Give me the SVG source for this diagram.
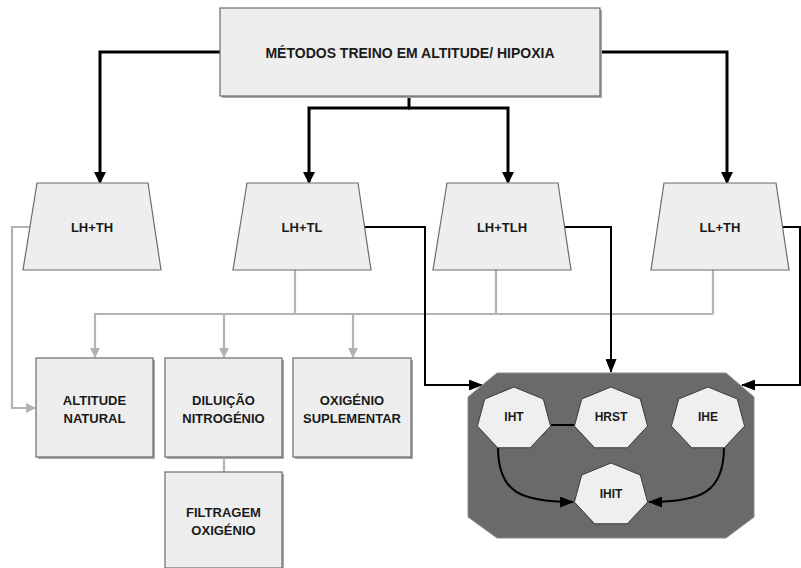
<svg xmlns="http://www.w3.org/2000/svg" width="801" height="568" viewBox="0 0 801 568">
<style>
  .box{fill:#eeeeee;stroke:#6b6b6b;stroke-width:1.2}
  .shadow{fill:#a8a8a8}
  .hep{fill:#efefef;stroke:#3a3a3a;stroke-width:1}
  .lbl{font-family:"Liberation Sans",Arial,sans-serif;font-weight:bold;font-size:13px;fill:#1a1a1a;text-anchor:middle}
  .thick{fill:none;stroke:#000;stroke-width:3}
  .blk{fill:none;stroke:#000;stroke-width:2}
  .gray{fill:none;stroke:#b3b3b3;stroke-width:2.2}
</style>
<defs>
  <marker id="ab" markerWidth="12" markerHeight="12" refX="10" refY="6" orient="auto" markerUnits="userSpaceOnUse">
    <path d="M0,0 L12,6 L0,12 Z" fill="#000"/>
  </marker>
  <marker id="ab2" markerWidth="14" markerHeight="11" refX="13" refY="5.5" orient="auto" markerUnits="userSpaceOnUse">
    <path d="M0,0 L14,5.5 L0,11 Z" fill="#000"/>
  </marker>
  <marker id="ag" markerWidth="10" markerHeight="10" refX="9" refY="5" orient="auto" markerUnits="userSpaceOnUse">
    <path d="M0,0 L10,5 L0,10 Z" fill="#b3b3b3"/>
  </marker>
  <polygon id="hepta" points="0,-32 29.3,-20 36.6,7.1 16.3,28.8 -16.3,28.8 -36.6,7.1 -29.3,-20"/>
</defs>

<g id="connectors">
  <path class="thick" d="M220,52 H100 V182" marker-end="url(#ab)"/>
  <path class="thick" d="M600,52 H727 V182" marker-end="url(#ab)"/>
  <path class="thick" d="M409,97 V108"/>
  <path class="thick" d="M410,108 H309 V182" marker-end="url(#ab)"/>
  <path class="thick" d="M408,108 H508 V182" marker-end="url(#ab)"/>

  <path class="gray" d="M30,227 H12 V408 H35" marker-end="url(#ag)"/>
  <path class="gray" d="M295,270 V314 M496,270 V314 M713,270 V314 M95,314 H713"/>
  <path class="gray" d="M95,313 V357" marker-end="url(#ag)"/>
  <path class="gray" d="M224,313 V357" marker-end="url(#ag)"/>
  <path class="gray" d="M353,313 V357" marker-end="url(#ag)"/>
  <path class="gray" d="M224,457 V472"/>

  <path class="blk" d="M365,227 H425 V385 H482" marker-end="url(#ab2)"/>
  <path class="blk" d="M565,227 H611 V372" marker-end="url(#ab2)"/>
  <path class="blk" d="M783,227 H800 V385 H742" marker-end="url(#ab2)"/>
</g>

<g id="top">
  <rect class="shadow" x="222" y="10" width="380" height="88"/>
  <rect class="box" x="220" y="8" width="380" height="88"/>
  <text class="lbl" x="410" y="58" style="font-size:14px">MÉTODOS TREINO EM ALTITUDE/ HIPOXIA</text>
</g>

<g id="lh-th">
  <polygon class="box" points="37,183 148,183 161,270 23,270"/>
  <text class="lbl" x="92" y="232">LH+TH</text>
</g>
<g id="lh-tl">
  <polygon class="box" points="247,183 358,183 371,270 233,270"/>
  <text class="lbl" x="302" y="232">LH+TL</text>
</g>
<g id="lh-tlh">
  <polygon class="box" points="447,183 558,183 571,270 433,270"/>
  <text class="lbl" x="502" y="232">LH+TLH</text>
</g>
<g id="ll-th">
  <polygon class="box" points="664,183 776,183 789,270 651,270"/>
  <text class="lbl" x="720" y="232">LL+TH</text>
</g>

<g id="altitude">
  <rect class="shadow" x="38" y="360" width="117" height="99"/>
  <rect class="box" x="36" y="358" width="117" height="99"/>
  <text class="lbl" x="94.5" y="405">ALTITUDE</text>
  <text class="lbl" x="94.5" y="423">NATURAL</text>
</g>
<g id="diluicao">
  <rect class="shadow" x="167" y="360" width="117" height="99"/>
  <rect class="box" x="165" y="358" width="117" height="99"/>
  <text class="lbl" x="223.5" y="405">DILUIÇÃO</text>
  <text class="lbl" x="223.5" y="423">NITROGÉNIO</text>
</g>
<g id="oxigenio">
  <rect class="shadow" x="295" y="360" width="118" height="99"/>
  <rect class="box" x="293" y="358" width="118" height="99"/>
  <text class="lbl" x="352" y="405">OXIGÉNIO</text>
  <text class="lbl" x="352" y="423">SUPLEMENTAR</text>
</g>
<g id="filtragem">
  <rect class="shadow" x="167" y="474" width="117" height="96"/>
  <rect class="box" x="165" y="472" width="117" height="96"/>
  <text class="lbl" x="223.5" y="517">FILTRAGEM</text>
  <text class="lbl" x="223.5" y="535">OXIGÉNIO</text>
</g>

<g id="group-ih">
  <polygon points="497,373 726,373 754,397 754,517 726,538 497,538 468,517 468,397" fill="#6a6a6a" stroke="#8a8a8a" stroke-width="1"/>
  <path class="blk" d="M551,425 H574"/>
  <path class="blk" d="M498,447 C498,492 520,502 573,502" marker-end="url(#ab2)"/>
  <path class="blk" d="M724,447 C724,492 702,502 649,502" marker-end="url(#ab2)"/>
</g>
<g id="iht">
  <use href="#hepta" class="hep" transform="translate(514,419)"/>
  <text class="lbl" x="514" y="421" style="font-size:12px">IHT</text>
</g>
<g id="hrst">
  <use href="#hepta" class="hep" transform="translate(611,419)"/>
  <text class="lbl" x="611" y="421" style="font-size:12px">HRST</text>
</g>
<g id="ihe">
  <use href="#hepta" class="hep" transform="translate(708,419)"/>
  <text class="lbl" x="708" y="421" style="font-size:12px">IHE</text>
</g>
<g id="ihit">
  <use href="#hepta" class="hep" transform="translate(611,495)"/>
  <text class="lbl" x="611" y="498" style="font-size:12px">IHIT</text>
</g>
</svg>
